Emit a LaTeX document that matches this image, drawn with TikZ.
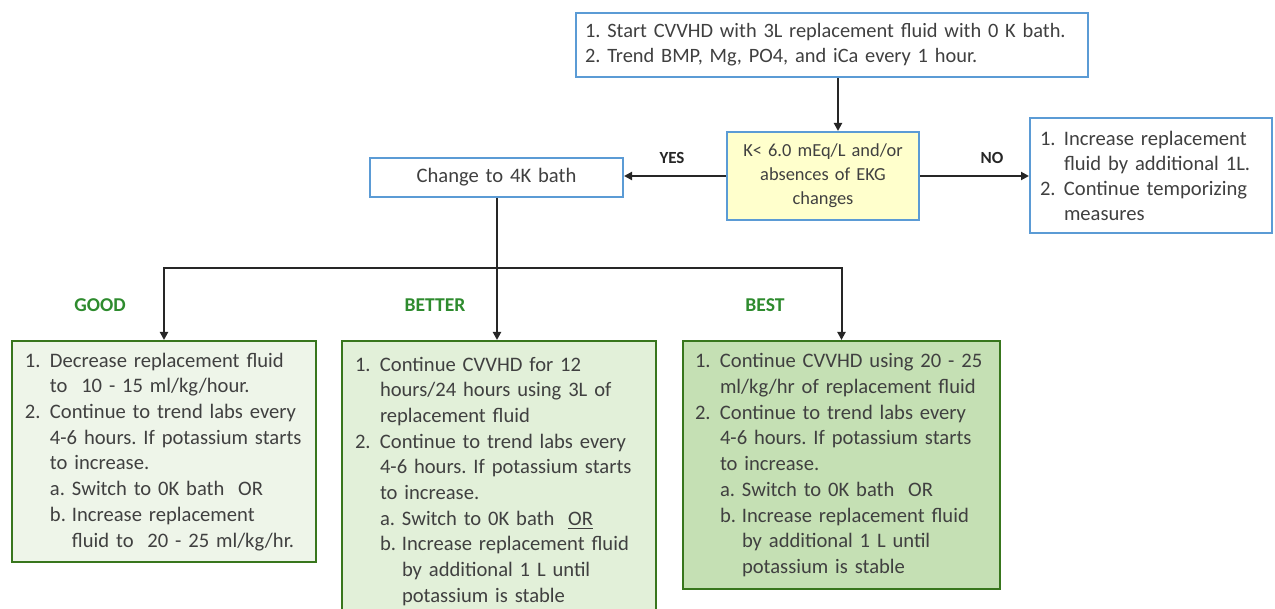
\documentclass[tikz,border=0pt]{standalone}
\usepackage{fontspec}
\setmainfont{Carlito}
\usepackage{xcolor}
\usepackage{tikz}
\usetikzlibrary{arrows.meta}
\frenchspacing
\definecolor{txt}{HTML}{404040}
\definecolor{bluebd}{HTML}{5B9BD5}
\definecolor{greenbd}{HTML}{38761D}
\definecolor{greenlab}{HTML}{2E8B2E}
\definecolor{yellowbg}{HTML}{FFFFCC}
\definecolor{goodbg}{HTML}{EEF5E9}
\definecolor{betterbg}{HTML}{E2F0D9}
\definecolor{bestbg}{HTML}{C5E0B4}
% list lines, broken as in the figure
\newcommand{\numln}[2]{\makebox[12.5pt][l]{#1}#2}
\newcommand{\contln}[1]{\hspace*{12.5pt}#1}
\newcommand{\subln}[2]{\hspace*{12.5pt}\makebox[11pt][l]{#1}#2}
\newcommand{\subcont}[1]{\hspace*{23.5pt}#1}
\tikzset{
  bluebox/.style={draw=bluebd, line width=1pt, fill=white, text=txt, inner xsep=5pt,
    font=\fontsize{10.3}{12.5}\selectfont},
  greenbox/.style={draw=greenbd, line width=1.2pt, text=txt, align=left, anchor=north,
    inner xsep=6.5pt, inner ysep=5pt, font=\fontsize{10.3}{12.85}\selectfont},
  arr/.style={draw=black!85, line width=1pt, -{Triangle[length=4pt,width=4pt]}},
  conn/.style={draw=black!85, line width=1pt},
  lab/.style={font=\bfseries\fontsize{8.5}{10}\selectfont, text=black!85},
  grade/.style={font=\bfseries\fontsize{9.8}{11}\selectfont, text=greenlab},
}

\begin{document}
\begin{tikzpicture}[x=0.5pt,y=-0.5pt]
\clip (0,0) rectangle (1275,609);

% top row
\node[bluebox, text width=247pt, inner xsep=4.5pt, minimum height=32pt, align=left,
  font=\fontsize{10.2}{12.5}\selectfont] (start) at (832,45)
  {\mbox{1. Start CVVHD with 3L replacement fluid with 0 K bath.}\\
   2. Trend BMP, Mg, PO4, and iCa every 1 hour.};
\node[bluebox, fill=yellowbg, text width=86pt, minimum height=44pt, align=center,
  font=\fontsize{9.2}{12}\selectfont] (kcheck) at (823,176)
  {K{<} 6.0 mEq/L and/or\\absences of EKG\\changes};
\node[bluebox, text width=116.5pt, minimum height=19.5pt, align=center] (bath4k) at (496.5,177.5)
  {Change to 4K bath};
\node[bluebox, text width=111pt, minimum height=57.5pt, align=left] (nobox) at (1151,175.5)
  {\makebox[12pt][l]{1.}Increase replacement\\
   \hspace*{12pt}fluid by additional 1L.\\
   \makebox[12pt][l]{2.}Continue temporizing\\
   \hspace*{12pt}measures};

\node[lab] (yes) at (672,158) {YES};
\node[lab] (no) at (992,158) {NO};

% three options
\node[greenbox, fill=goodbg, text width=139pt, minimum height=110.5pt] (good) at (164,340)
  {\numln{1.}{Decrease replacement fluid}\\
   \contln{to\ \ 10 - 15 ml/kg/hour.}\\
   \numln{2.}{Continue to trend labs every}\\
   \contln{4-6 hours. If potassium starts}\\
   \contln{to increase.}\\
   \subln{a.}{Switch to 0K bath\ \ OR}\\
   \subln{b.}{Increase replacement}\\
   \subcont{fluid to\ \ 20 - 25 ml/kg/hr.}};
\node[greenbox, fill=betterbg, text width=144pt, minimum height=140pt] (better) at (499,340)
  {\numln{1.}{Continue CVVHD for 12}\\
   \contln{hours/24 hours using 3L of}\\
   \contln{replacement fluid}\\
   \numln{2.}{Continue to trend labs every}\\
   \contln{4-6 hours. If potassium starts}\\
   \contln{to increase.}\\
   \subln{a.}{Switch to 0K bath\ \ \underline{OR}}\\
   \subln{b.}{Increase replacement fluid}\\
   \subcont{by additional 1 L until}\\
   \subcont{potassium is stable}};
\node[greenbox, fill=bestbg, text width=146.5pt, inner xsep=6pt, minimum height=124pt] (best) at (841.5,340)
  {\numln{1.}{Continue CVVHD using 20 - 25}\\
   \contln{ml/kg/hr of replacement fluid}\\
   \numln{2.}{Continue to trend labs every}\\
   \contln{4-6 hours. If potassium starts}\\
   \contln{to increase.}\\
   \subln{a.}{Switch to 0K bath\ \ OR}\\
   \subln{b.}{Increase replacement fluid}\\
   \subcont{by additional 1 L until}\\
   \subcont{potassium is stable}};

\node[grade] (goodlab) at (100,305) {GOOD};
\node[grade] (betterlab) at (435,305) {BETTER};
\node[grade] (bestlab) at (765,305) {BEST};

% connectors
\coordinate (fork) at (497,268);
\draw[arr] ([xshift=3pt]start.south) -- ([xshift=3pt]start.south |- kcheck.north);
\draw[arr] (kcheck.west) -- (kcheck.west -| bath4k.east);
\draw[arr] (kcheck.east) -- (kcheck.east -| nobox.west);
\draw[conn] (bath4k.south -| fork) -- (fork);
\draw[arr] (fork) -| (good.north);
\draw[arr] (fork) -- (fork |- better.north);
\draw[arr] (fork) -| (best.north);
\end{tikzpicture}
\end{document}
